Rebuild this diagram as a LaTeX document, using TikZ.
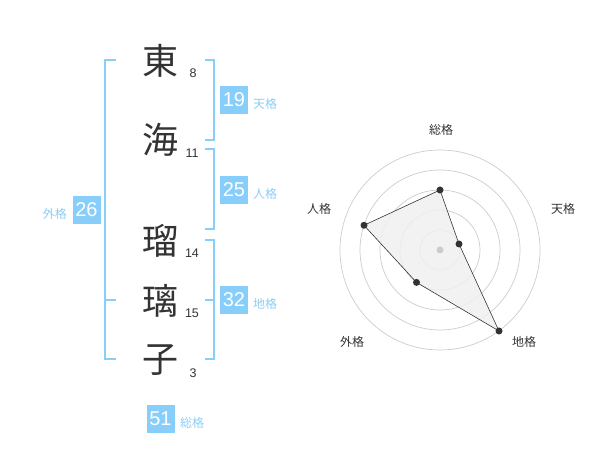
\documentclass[tikz,border=0pt]{standalone}
\usepackage{fontspec}
\usetikzlibrary{calc}
\setmainfont{Liberation Sans}
\newfontfamily\cjk{Noto Sans CJK JP}
\definecolor{boxblue}{RGB}{135,206,250}
\definecolor{lblblue}{RGB}{140,205,245}
\definecolor{ink}{RGB}{51,51,51}
\definecolor{ring}{RGB}{204,204,204}
\definecolor{area}{RGB}{240,240,240}
\tikzset{
  kanji/.style={font=\cjk\fontsize{36}{36}\selectfont, text=ink, inner sep=0pt},
  stroke/.style={font=\fontsize{12.5}{12.5}\selectfont, text=ink, inner sep=0pt},
  valbox/.style={fill=boxblue, text=white, minimum width=28pt, minimum height=28pt, inner sep=0pt, font=\fontsize{20}{20}\selectfont},
  kaku/.style={font=\cjk\fontsize{12}{12}\selectfont, text=lblblue, inner sep=0pt},
  brk/.style={draw=boxblue, line width=1.6pt},
  axislbl/.style={font=\cjk\fontsize{12}{12}\selectfont, text=ink, inner sep=0pt},
  dot/.style={circle, fill=ink, minimum size=7pt, inner sep=0pt},
}
\begin{document}
\begin{tikzpicture}[x=1pt,y=-1pt]
\useasboundingbox (0,0) rectangle (600,470);
% characters
\node[kanji] (c1) at (160,61) {東};
\node[kanji] (c2) at (160,140) {海};
\node[kanji] (c3) at (160,241) {瑠};
\node[kanji] (c4) at (160,301) {璃};
\node[kanji] (c5) at (160,360) {子};
\node[stroke] (s1) at (193,73) {8};
\node[stroke] (s2) at (192,153) {11};
\node[stroke] (s3) at (192,253) {14};
\node[stroke] (s4) at (192,313) {15};
\node[stroke] (s5) at (193,373) {3};
% brackets
\draw[brk] (116,60) -- (105,60) -- (105,359) -- (116,359);
\draw[brk] (105,300) -- (116,300);
\draw[brk] (205,60) -- (214,60) -- (214,140) -- (205,140);
\draw[brk] (205,149) -- (214,149) -- (214,229) -- (205,229);
\draw[brk] (205,240) -- (214,240) -- (214,359) -- (205,359);
\draw[brk] (205,300) -- (214,300);
% value boxes
\node[valbox] (b19) at (234,100) {19};
\node[kaku, anchor=west] (k19) at (253,104) {天格};
\node[valbox] (b25) at (234,190) {25};
\node[kaku, anchor=west] (k25) at (253,194) {人格};
\node[valbox] (b26) at (86.5,210) {26};
\node[kaku, anchor=east] (k26) at (67,214) {外格};
\node[valbox] (b32) at (234,300) {32};
\node[kaku, anchor=west] (k32) at (253,304) {地格};
\node[valbox] (b51) at (160.5,419) {51};
\node[kaku, anchor=west] (k51) at (180,423) {総格};
% radar
\coordinate (o) at (440,250);
\foreach \r in {20,40,60,80,100} \draw[ring, line width=0.7pt] (o) circle[radius=\r];
\coordinate (pS) at ($(o)+(0,-60)$);
\coordinate (pT) at ($(o)+(19,-6)$);
\coordinate (pC) at ($(o)+(59,81)$);
\coordinate (pG) at ($(o)+(-23.5,32.4)$);
\coordinate (pJ) at ($(o)+(-76,-24.7)$);
\filldraw[fill=area, fill opacity=0.85, draw=ink, line width=0.6pt] (pS) -- (pT) -- (pC) -- (pG) -- (pJ) -- cycle;
\fill[ring] (o) circle[radius=3.5];
\foreach \p in {pS,pT,pC,pG,pJ} \node[dot] at (\p) {};
\node[axislbl] (aS) at (441,130) {総格};
\node[axislbl] (aT) at (563,209) {天格};
\node[axislbl] (aC) at (524,342) {地格};
\node[axislbl] (aG) at (352,342) {外格};
\node[axislbl] (aJ) at (319,209) {人格};
\end{tikzpicture}
\end{document}
